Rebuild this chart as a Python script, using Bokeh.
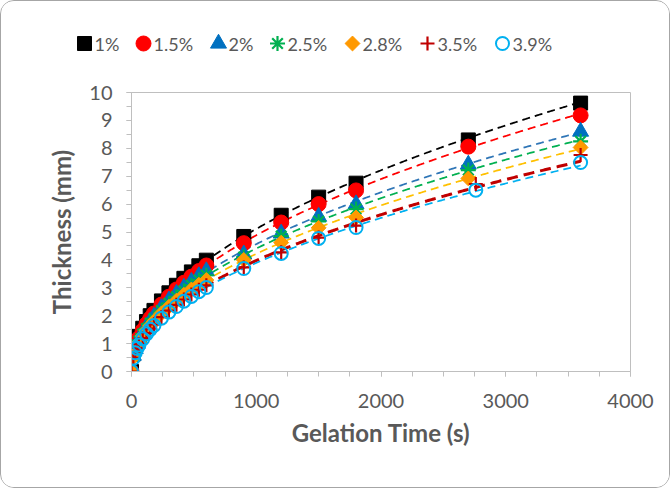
import numpy as np
from bokeh.plotting import figure
from bokeh.layouts import column
from bokeh.models import Range1d, FixedTicker
from bokeh.core.properties import value
from bokeh.embed import file_html
from bokeh.resources import INLINE

# ---------------- data ----------------
time_s = [0, 15, 30, 45, 60, 90, 120, 150, 180, 240, 300, 360, 420, 480, 540, 600,
          900, 1200, 1500, 1800, 2700, 3600]
time_s_b = [0, 15, 30, 45, 60, 90, 120, 150, 180, 240, 300, 360, 420, 480, 540, 600,
            900, 1200, 1500, 1800, 2760, 3600]

labels = ["1%", "1.5%", "2%", "2.5%", "2.8%", "3.5%", "3.9%"]

thick_1 = [0, 0.63, 0.89, 1.09, 1.26, 1.55, 1.79, 2.00, 2.19, 2.53, 2.82, 3.09, 3.34, 3.57, 3.79, 3.99,
           4.84, 5.60, 6.25, 6.75, 8.30, 9.62]
thick_15 = [0, 0.60, 0.85, 1.04, 1.20, 1.47, 1.70, 1.90, 2.08, 2.40, 2.68, 2.94, 3.18, 3.40, 3.60, 3.80,
            4.60, 5.34, 6.00, 6.49, 8.06, 9.18]
thick_2 = [0, 0.57, 0.81, 0.99, 1.14, 1.39, 1.61, 1.80, 1.97, 2.28, 2.55, 2.79, 3.01, 3.22, 3.42, 3.60,
           4.20, 4.95, 5.55, 6.00, 7.42, 8.60]
thick_25 = [0, 0.55, 0.77, 0.95, 1.09, 1.34, 1.54, 1.73, 1.89, 2.18, 2.44, 2.68, 2.89, 3.09, 3.28, 3.45,
            4.10, 4.85, 5.38, 5.82, 7.22, 8.25]
thick_28 = [0, 0.52, 0.73, 0.90, 1.04, 1.27, 1.47, 1.64, 1.80, 2.08, 2.32, 2.54, 2.75, 2.94, 3.11, 3.28,
            4.00, 4.62, 5.15, 5.52, 6.92, 8.03]
thick_35 = [0, 0.49, 0.69, 0.85, 0.98, 1.20, 1.38, 1.54, 1.69, 1.95, 2.18, 2.39, 2.58, 2.76, 2.93, 3.09,
            3.73, 4.27, 4.80, 5.23, 6.72, 7.76]
thick_39 = [0, 0.48, 0.67, 0.83, 0.95, 1.17, 1.35, 1.51, 1.65, 1.91, 2.13, 2.33, 2.52, 2.69, 2.86, 3.01,
            3.69, 4.23, 4.77, 5.16, 6.50, 7.49]

x_ticks = [0, 1000, 2000, 3000, 4000]
y_ticks = [0, 1, 2, 3, 4, 5, 6, 7, 8, 9, 10]

series = [
    (labels[0], time_s, thick_1),
    (labels[1], time_s, thick_15),
    (labels[2], time_s, thick_2),
    (labels[3], time_s, thick_25),
    (labels[4], time_s, thick_28),
    (labels[5], time_s_b, thick_35),
    (labels[6], time_s_b, thick_39),
]

# ---------------- styles ----------------
marker_styles = [
    dict(marker="square", size=14, fill_color="#000000", line_color="#000000"),
    dict(marker="circle", size=15, fill_color="#FF0000", line_color="#FF0000"),
    dict(marker="triangle", size=16, fill_color="#0070C0", line_color="#0070C0"),
    dict(marker="asterisk", size=15, line_color="#00B050", line_width=2.2),
    dict(marker="square", size=10.5, angle=np.pi / 4, fill_color="#FF9900", line_color="#FF9900"),
    dict(marker="cross", size=14, line_color="#C00000", line_width=2.2),
    dict(marker="circle", size=13, fill_color=None, line_color="#00B0F0", line_width=2),
]
trend_styles = [
    dict(color="#000000", width=1.75, dash="8 5"),
    dict(color="#FF0000", width=1.75, dash="8 5"),
    dict(color="#2E75B6", width=1.75, dash="8 5"),
    dict(color="#00B050", width=1.75, dash="8 5"),
    dict(color="#FFC000", width=1.75, dash="8 5"),
    dict(color="#C00000", width=3.0, dash="11 6"),
    dict(color="#00B0F0", width=1.75, dash="8 5"),
]

TXT = "#595959"
AX = "#BFBFBF"
W = 668
LEG_H = 70

# ---------------- legend strip (pixel-unit ranges, y measured from top) ----------------
lp = figure(width=W, height=LEG_H, output_backend="svg", toolbar_location=None,
            x_range=Range1d(0, W), y_range=Range1d(LEG_H, 0),
            x_axis_location=None, y_axis_location=None,
            min_border_left=0, min_border_right=0, min_border_top=0, min_border_bottom=0)
lp.frame_align = False
lp.outline_line_color = None
lp.xgrid.visible = False
lp.ygrid.visible = False
lp.background_fill_color = "white"
lp.border_fill_color = "white"

leg_x = 83          # centre of first legend marker
leg_y = 42          # vertical centre of the legend row
for lab, ms in zip(labels, marker_styles):
    lp.scatter(x=[leg_x], y=[leg_y], **ms)
    lp.text(x=[leg_x + 10], y=[leg_y], text=[lab], text_font=value("Lato"),
            text_font_size=value("18px"), text_color=TXT,
            text_baseline="middle", text_align="left")
    leg_x += 43 + 8 * len(lab)   # entry width grows with label length

# ---------------- main plot ----------------
p = figure(width=W, height=486 - LEG_H, output_backend="svg", toolbar_location=None,
           x_range=Range1d(0, 4000), y_range=Range1d(0, 10),
           min_border_left=130, min_border_right=39, min_border_top=91 - LEG_H,
           min_border_bottom=116)
p.frame_align = False
p.background_fill_color = "white"
p.border_fill_color = "white"
p.outline_line_color = AX
p.outline_line_width = 1
p.xgrid.visible = False
p.ygrid.visible = False

p.xaxis.ticker = FixedTicker(ticks=x_ticks, minor_ticks=list(range(0, 4001, 250)))
p.yaxis.ticker = FixedTicker(ticks=y_ticks, minor_ticks=[v / 2 for v in range(0, 21)])

for ax in (p.xaxis, p.yaxis):
    ax.axis_line_color = AX
    ax.axis_line_width = 1
    ax.major_tick_line_color = AX
    ax.minor_tick_line_color = AX
    ax.major_tick_in = 0
    ax.major_tick_out = 5
    ax.minor_tick_in = 0
    ax.minor_tick_out = 5
    ax.major_label_text_font = "Lato"
    ax.major_label_text_font_size = "20px"
    ax.major_label_text_color = TXT
    ax.axis_label_text_font = "Lato"
    ax.axis_label_text_font_size = "24px"
    ax.axis_label_text_font_style = "bold"
    ax.axis_label_text_color = TXT

p.xaxis.axis_label = "Gelation Time (s)"
p.yaxis.axis_label = "Thickness (mm)"
p.xaxis.major_label_standoff = 17
p.yaxis.major_label_standoff = 14
p.xaxis.axis_label_standoff = 7
p.yaxis.axis_label_standoff = 10

# power-law trendlines (least squares in log-log space, as in a spreadsheet trendline)
for (lab, t, y), st in zip(series, trend_styles):
    t = np.asarray(t, dtype=float)
    y = np.asarray(y, dtype=float)
    m = (t > 0) & (y > 0)
    b, ln_a = np.polyfit(np.log(t[m]), np.log(y[m]), 1)
    tt = np.linspace(t[m].min(), t[m].max(), 400)
    p.line(tt, np.exp(ln_a) * tt ** b, line_color=st["color"], line_width=st["width"],
           line_dash=st["dash"])

for (lab, t, y), ms in zip(series, marker_styles):
    p.scatter(t, y, **ms)

layout = column(lp, p, spacing=0)
layout.styles = {"border": "1px solid #A6A6A6", "border-radius": "14px", "overflow": "hidden",
                 "background-color": "white"}

open("out.html", "w").write(file_html(layout, INLINE))
